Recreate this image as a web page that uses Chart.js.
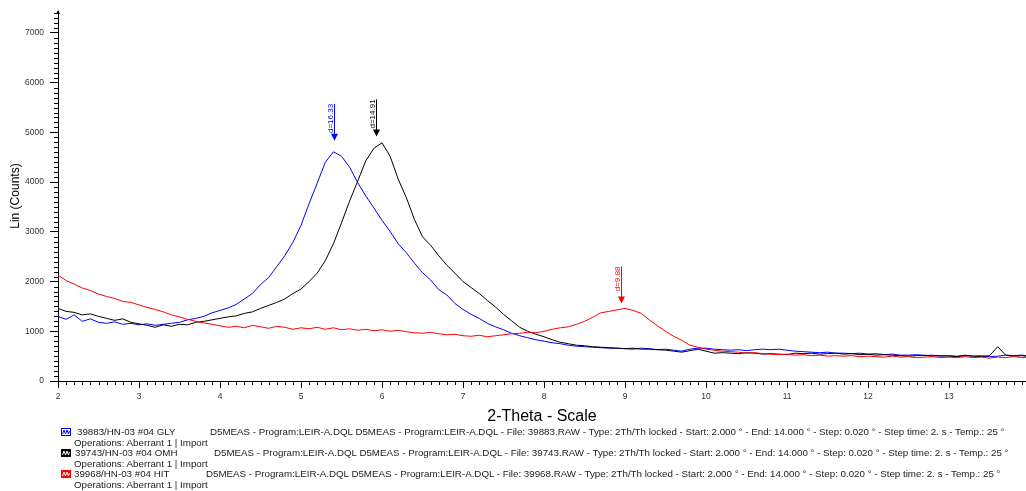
<!DOCTYPE html>
<html>
<head>
<meta charset="utf-8">
<script src="https://cdn.jsdelivr.net/npm/chart.js@4"></script>
<style>
    body { margin: 0; background: #fff; }
    #wrap { position: relative; width: 1026px; height: 491px; overflow: hidden; }
    #chart { position: absolute; left: 0; top: 0; }
    .row { position: absolute; font: 9.75px "Liberation Sans", Arial, sans-serif; color: #222; white-space: nowrap; line-height: 10px; }
    .icon { position: absolute; width: 10px; height: 8px; }
</style>
</head>
<body>
<div id="wrap">
    <canvas id="chart" width="1026" height="491"></canvas>
    <div id="legend"></div>
</div>
<script>
// 2-Theta positions (degrees)
const twoTheta = [
    2.0, 2.1, 2.2, 2.3, 2.4, 2.5, 2.6, 2.7, 2.8, 2.9,
    3.0, 3.1, 3.2, 3.3, 3.4, 3.5, 3.6, 3.7, 3.8, 3.9,
    4.0, 4.1, 4.2, 4.3, 4.4, 4.5, 4.6, 4.7, 4.8, 4.9,
    5.0, 5.1, 5.2, 5.3, 5.4, 5.5, 5.6, 5.7, 5.8, 5.9,
    6.0, 6.1, 6.2, 6.3, 6.4, 6.5, 6.6, 6.7, 6.8, 6.9,
    7.0, 7.1, 7.2, 7.3, 7.4, 7.5, 7.6, 7.7, 7.8, 7.9,
    8.0, 8.1, 8.2, 8.3, 8.4, 8.5, 8.6, 8.7, 8.8, 8.9,
    9.0, 9.1, 9.2, 9.3, 9.4, 9.5, 9.6, 9.7, 9.8, 9.9,
    10.0, 10.1, 10.2, 10.3, 10.4, 10.5, 10.6, 10.7, 10.8, 10.9,
    11.0, 11.1, 11.2, 11.3, 11.4, 11.5, 11.6, 11.7, 11.8, 11.9,
    12.0, 12.1, 12.2, 12.3, 12.4, 12.5, 12.6, 12.7, 12.8, 12.9,
    13.0, 13.1, 13.2, 13.3, 13.4, 13.5, 13.6, 13.7, 13.8, 13.9,
    14.0
];

// Lin (Counts)
const countsGLY = [
    1300, 1240, 1330, 1200, 1250, 1180, 1160, 1190, 1140, 1160,
    1130, 1150, 1120, 1140, 1160, 1180, 1230, 1260, 1300, 1370,
    1420, 1470, 1540, 1650, 1760, 1940, 2080, 2300, 2520, 2790,
    3130, 3570, 3980, 4400, 4610, 4520, 4300, 3990, 3720, 3480,
    3230, 3010, 2760, 2580, 2370, 2180, 2030, 1840, 1730, 1560,
    1440, 1340, 1260, 1160, 1090, 1030, 960, 910, 870, 830,
    800, 770, 750, 720, 700, 690, 680, 670, 660, 660,
    650, 640, 660, 650, 630, 640, 620, 600, 640, 660,
    660, 640, 630, 620, 630, 610, 630, 640, 630, 640,
    620, 600, 590, 580, 570, 580, 560, 560, 550, 560,
    540, 550, 530, 540, 520, 520, 530, 510, 520, 500,
    510, 500, 520, 500, 510, 490, 500, 520, 510, 520,
    500
];

const countsOMH = [
    1460, 1400, 1380, 1330, 1350, 1300, 1260, 1220, 1250, 1180,
    1150, 1120, 1080, 1130, 1100, 1140, 1130, 1180, 1200, 1230,
    1260, 1290, 1310, 1360, 1390, 1460, 1520, 1580, 1650, 1760,
    1850, 2000, 2170, 2420, 2760, 3180, 3620, 4020, 4430, 4680,
    4790, 4520, 4060, 3690, 3250, 2900, 2730, 2520, 2330, 2170,
    2000, 1880, 1760, 1620, 1490, 1340, 1210, 1080, 1000, 940,
    890, 830, 780, 750, 720, 710, 690, 680, 670, 660,
    650, 660, 640, 640, 630, 620, 600, 580, 610, 640,
    600, 560, 570, 560, 550, 570, 560, 540, 550, 540,
    530, 560, 550, 560, 540, 550, 560, 540, 550, 530,
    540, 520, 530, 520, 510, 500, 510, 520, 500, 510,
    500, 490, 510, 500, 490, 510, 690, 520, 500, 510,
    490
];

const countsHIT = [
    2130, 2020, 1950, 1870, 1820, 1750, 1700, 1660, 1600, 1580,
    1530, 1480, 1440, 1390, 1330, 1290, 1240, 1200, 1170, 1140,
    1110, 1080, 1100, 1070, 1120, 1090, 1060, 1100, 1080, 1040,
    1070, 1050, 1080, 1040, 1070, 1030, 1050, 1020, 1040, 1010,
    1030, 1000, 1020, 990, 970, 960, 980, 950, 930, 940,
    910, 900, 920, 890, 910, 930, 950, 960, 980, 970,
    1000, 1040, 1070, 1090, 1140, 1200, 1280, 1370, 1400, 1430,
    1460, 1420, 1360, 1230, 1110, 1000, 900, 820, 720, 680,
    640, 620, 600, 590, 580, 560, 570, 550, 540, 530,
    540, 520, 530, 510, 520, 500, 510, 500, 510, 490,
    500, 490, 480, 500, 480, 490, 470, 480, 490, 470,
    480, 470, 490, 470, 480, 460, 480, 470, 490, 470,
    480
];

// peak markers
const peakTheta = [5.41, 5.93, 8.95];
const peakArrowTip = [4830, 4920, 1560];
const peakLabels = ['d=16.33', 'd=14.91', 'd=9.88'];
const peakColors = ['#0000ff', '#000000', '#ff0000'];

const xTickValues = [2, 3, 4, 5, 6, 7, 8, 9, 10, 11, 12, 13];
const yTickValues = [0, 1000, 2000, 3000, 4000, 5000, 6000, 7000];

const seriesNames = ['39883/HN-03 #04 GLY', '39743/HN-03 #04 OMH', '39968/HN-03 #04 HIT'];
const seriesFiles = ['39883.RAW', '39743.RAW', '39968.RAW'];
const seriesColors = ['#0000ff', '#000000', '#ff0000'];

const FONT = '"Liberation Sans", Arial, sans-serif';

const toPoints = ys => ys.map((y, i) => ({ x: twoTheta[i], y }));

// minor ticks + axis arrow + peak arrows
const decorPlugin = {
    id: 'decor',
    afterDraw(chart) {
        const { ctx, chartArea } = chart;
        const xs = chart.scales.x;
        const ys = chart.scales.y;
        ctx.save();
        ctx.strokeStyle = '#000';
        ctx.lineWidth = 1;
        ctx.beginPath();
        for (let v = 100; v <= ys.max; v += 100) {
            if (v % 1000 === 0) continue;
            const py = Math.round(ys.getPixelForValue(v)) + 0.5;
            ctx.moveTo(chartArea.left - 4, py);
            ctx.lineTo(chartArea.left, py);
        }
        for (let i = 21; i / 10 <= xs.max; i++) {
            if (i % 10 === 0) continue;
            const px = Math.round(xs.getPixelForValue(i / 10)) + 0.5;
            ctx.moveTo(px, chartArea.bottom);
            ctx.lineTo(px, chartArea.bottom + 4);
        }
        ctx.stroke();

        // small arrow at top of y axis
        ctx.fillStyle = '#000';
        ctx.beginPath();
        ctx.moveTo(chartArea.left - 2, chartArea.top + 3);
        ctx.lineTo(chartArea.left + 2, chartArea.top + 3);
        ctx.lineTo(chartArea.left, chartArea.top - 1);
        ctx.closePath();
        ctx.fill();

        // peak d-spacing markers
        peakTheta.forEach((t, i) => {
            const px = Math.round(xs.getPixelForValue(t)) + 0.5;
            const tip = ys.getPixelForValue(peakArrowTip[i]);
            const top = tip - 37;
            ctx.strokeStyle = peakColors[i];
            ctx.fillStyle = peakColors[i];
            ctx.beginPath();
            ctx.moveTo(px, top);
            ctx.lineTo(px, tip - 6);
            ctx.stroke();
            ctx.beginPath();
            ctx.moveTo(px - 3.5, tip - 7);
            ctx.lineTo(px + 3.5, tip - 7);
            ctx.lineTo(px, tip);
            ctx.closePath();
            ctx.fill();
            ctx.save();
            ctx.translate(px - 1.5, top);
            ctx.rotate(-Math.PI / 2);
            ctx.font = '8px ' + FONT;
            ctx.textAlign = 'right';
            ctx.textBaseline = 'alphabetic';
            ctx.fillText(peakLabels[i], 0, 0);
            ctx.restore();
        });
        ctx.restore();
    }
};

new Chart(document.getElementById('chart').getContext('2d'), {
    type: 'line',
    data: {
        datasets: [
            { label: seriesNames[0], data: toPoints(countsGLY), borderColor: seriesColors[0], order: 2 },
            { label: seriesNames[1], data: toPoints(countsOMH), borderColor: seriesColors[1], order: 1 },
            { label: seriesNames[2], data: toPoints(countsHIT), borderColor: seriesColors[2], order: 0 }
        ]
    },
    options: {
        responsive: false,
        animation: false,
        events: [],
        layout: { padding: { top: 10, left: 0, right: 0, bottom: 65 } },
        elements: {
            line: { borderWidth: 1, tension: 0 },
            point: { radius: 0 }
        },
        plugins: {
            legend: { display: false },
            tooltip: { enabled: false }
        },
        scales: {
            x: {
                type: 'linear',
                min: 2,
                max: 13.95,
                afterBuildTicks: s => { s.ticks = xTickValues.map(value => ({ value })); },
                afterFit: s => { s.height = 45; },
                border: { display: true, color: '#000', width: 1 },
                grid: { drawOnChartArea: false, tickLength: 7, color: '#000' },
                ticks: {
                    maxRotation: 0,
                    autoSkip: false,
                    padding: 4,
                    color: '#333',
                    font: { family: FONT, size: 8.5 },
                    callback: v => String(v)
                },
                title: {
                    display: true,
                    text: '2-Theta - Scale',
                    color: '#000',
                    font: { family: FONT, size: 16 },
                    padding: { top: 0, bottom: 0 }
                }
            },
            y: {
                min: 0,
                max: 7440,
                afterBuildTicks: s => { s.ticks = yTickValues.map(value => ({ value })); },
                afterFit: s => { s.width = 58; },
                border: { display: true, color: '#000', width: 1 },
                grid: { drawOnChartArea: false, tickLength: 8, color: '#000' },
                ticks: {
                    autoSkip: false,
                    padding: 6,
                    color: '#333',
                    font: { family: FONT, size: 8.5 },
                    callback: v => String(v)
                },
                title: {
                    display: true,
                    text: 'Lin (Counts)',
                    color: '#000',
                    font: { family: FONT, size: 12 },
                    padding: { top: 8, bottom: 0 }
                }
            }
        }
    },
    plugins: [decorPlugin]
});

// file legend under the chart
const legend = document.getElementById('legend');
const nameX = [77, 75, 74];
const infoX = [210, 214, 206];
seriesNames.forEach((name, i) => {
    const top = 427 + i * 21;
    const c = seriesColors[i];
    const filled = i > 0;
    legend.insertAdjacentHTML('beforeend',
        `<svg class="icon" style="left:61px;top:${top + 1}px" viewBox="0 0 10 8">` +
        `<rect x="0.5" y="0.5" width="9" height="7" fill="${filled ? c : '#fff'}" stroke="${c}"/>` +
        `<polyline points="1.5,6 3,2 4.5,6 6,2 7.5,6 8.5,3" fill="none" stroke="${filled ? '#fff' : c}" stroke-width="1"/></svg>` +
        `<div class="row" style="left:${nameX[i]}px;top:${top}px">${name}</div>` +
        `<div class="row" style="left:${infoX[i]}px;top:${top}px">D5MEAS - Program:LEIR-A.DQL D5MEAS - Program:LEIR-A.DQL - File: ${seriesFiles[i]} - Type: 2Th/Th locked - Start: 2.000 ° - End: 14.000 ° - Step: 0.020 ° - Step time: 2. s - Temp.: 25 °</div>` +
        `<div class="row" style="left:74px;top:${top + 10.5}px">Operations: Aberrant 1 | Import</div>`
    );
});
</script>
</body>
</html>
